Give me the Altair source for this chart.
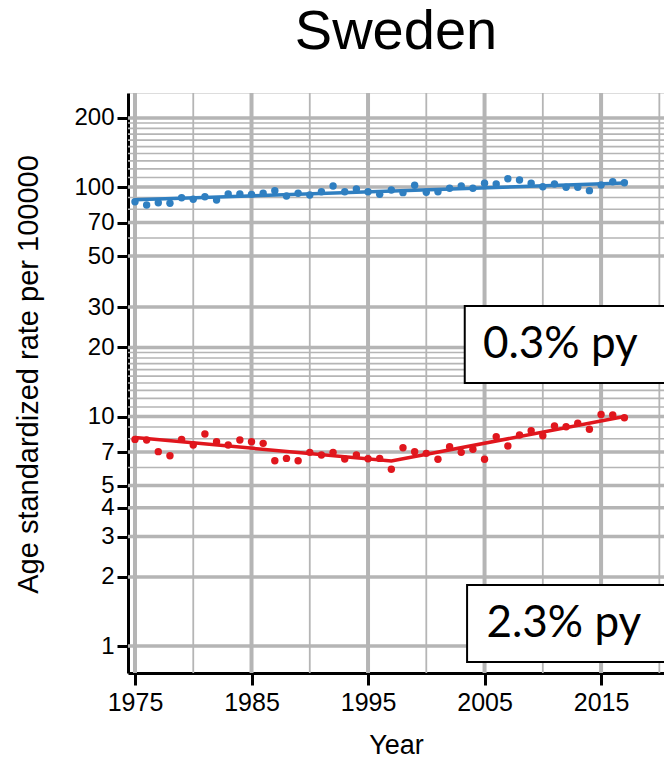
import altair as alt
import pandas as pd

# ---------------- data ----------------
years = list(range(1975, 2018))
blue_rate = [86.3, 83.5, 85.4, 84.9, 89.8, 88.4, 90.7, 87.8, 93.2, 93.2,
             92.9, 93.9, 96.4, 91.4, 93.9, 92.3, 95.4, 101.0, 95.4, 98.0,
             95.4, 92.9, 97.0, 94.5, 101.7, 94.8, 95.4, 98.7, 101.0, 98.7,
             103.8, 103.1, 108.7, 107.3, 103.8, 100.3, 103.1, 99.7, 99.7, 96.4,
             102.0, 105.5, 104.4]
red_rate = [7.95, 7.90, 7.03, 6.75, 7.95, 7.51, 8.39, 7.77, 7.51, 7.90,
            7.77, 7.64, 6.42, 6.57, 6.42, 6.98, 6.80, 6.98, 6.53, 6.80,
            6.55, 6.57, 5.89, 7.31, 7.03, 6.91, 6.51, 7.39, 6.98, 7.20,
            6.51, 8.17, 7.44, 8.31, 8.67, 8.25, 9.09, 9.03, 9.34, 8.80,
            10.2, 10.15, 9.88]

blue_fit_years = [1975, 2017]
blue_fit = [88.0, 104.0]
red_fit_years = [1975, 1997, 2017]
red_fit = [8.1, 6.4, 10.0]

x_ticks = [1975, 1985, 1995, 2005, 2015]
x_minor = [1980, 1990, 2000, 2010, 2020]
y_ticks = [1, 2, 3, 4, 5, 7, 10, 20, 30, 50, 70, 100, 200]
y_minor = [6, 8, 9, 11, 12, 13, 14, 15, 16, 17, 18, 19, 60, 80, 90,
           110, 120, 130, 140, 150, 160, 170, 180, 190]

box_labels = ["0.3% py", "2.3% py"]
box_x = [2003.3, 2003.5]
box_x2 = [2022.0, 2022.0]
box_y = [30.3, 1.845]
box_y2 = [14.0, 0.852]
box_text_x = [2011.5, 2011.8]
box_text_y = [20.5, 1.247]

# ---------------- tables ----------------
pts = pd.DataFrame({
    "year": years * 2,
    "rate": blue_rate + red_rate,
    "series": ["blue"] * len(years) + ["red"] * len(years),
})
fits = pd.DataFrame({
    "year": blue_fit_years + red_fit_years,
    "rate": blue_fit + red_fit,
    "series": ["blue"] * len(blue_fit_years) + ["red"] * len(red_fit_years),
})
xmaj = pd.DataFrame({"year": x_ticks})
xmin = pd.DataFrame({"year": x_minor})
ymaj = pd.DataFrame({"rate": y_ticks})
ymin = pd.DataFrame({"rate": y_minor})
boxes = pd.DataFrame({"label": box_labels, "year": box_x, "x2": box_x2,
                      "rate": box_y, "y2": box_y2, "tx": box_text_x, "ty": box_text_y})

FONT = "Liberation Sans"
xs = alt.Scale(domain=[1974.4, 2020.4], nice=False, zero=False)
ys = alt.Scale(type="log", domain=[0.763, 256.8], nice=False)
colors = alt.Scale(domain=["blue", "red"], range=["#2f7fc1", "#e0161d"])
GRID = "#b5b5b5"

x_axis = alt.Axis(values=x_ticks, format="d", grid=False, title="Year",
                  labelFont=FONT, labelFontSize=25, labelColor="black", labelPadding=5,
                  labelOverlap=False,
                  tickColor="black", tickWidth=3, tickSize=12,
                  domainColor="black", domainWidth=3,
                  titleFont=FONT, titleFontSize=27, titleFontWeight="normal",
                  titleColor="black", titlePadding=17)
y_axis = alt.Axis(values=y_ticks, format="~g", grid=False,
                  title="Age standardized rate per 100000",
                  labelFont=FONT, labelFontSize=24, labelColor="black", labelPadding=3,
                  labelOverlap=False,
                  tickColor="black", tickWidth=3, tickSize=11,
                  domainColor="black", domainWidth=3,
                  titleFont=FONT, titleFontSize=29, titleFontWeight="normal",
                  titleColor="black", titleX=-91, titleY=281,
                  titleBaseline="alphabetic", titleAngle=270, titleAlign="center")

X = lambda f: alt.X(f, scale=xs, axis=x_axis)
Y = lambda f: alt.Y(f, scale=ys, axis=y_axis)

g_xmin = alt.Chart(xmin).mark_rule(color=GRID, strokeWidth=1.8).encode(x=X("year:Q"))
g_ymin = alt.Chart(ymin).mark_rule(color=GRID, strokeWidth=1.6).encode(y=Y("rate:Q"))
g_xmaj = alt.Chart(xmaj).mark_rule(color=GRID, strokeWidth=4).encode(x=X("year:Q"))
g_ymaj = alt.Chart(ymaj).mark_rule(color=GRID, strokeWidth=3.5).encode(y=Y("rate:Q"))

lines = alt.Chart(fits).mark_line(strokeWidth=3.5).encode(
    x=X("year:Q"), y=Y("rate:Q"),
    color=alt.Color("series:N", scale=colors, legend=None),
    detail="series:N")

points = alt.Chart(pts).mark_circle(size=55, opacity=1).encode(
    x=X("year:Q"), y=Y("rate:Q"),
    color=alt.Color("series:N", scale=colors, legend=None))

rects = alt.Chart(boxes).mark_rect(fill="white", stroke="black", strokeWidth=2,
                                   clip=True).encode(
    x=X("year:Q"), x2="x2:Q", y=Y("rate:Q"), y2="y2:Q")

texts = alt.Chart(boxes).mark_text(font="Lato", fontSize=44, color="black",
                                   align="center", baseline="middle").encode(
    x=X("tx:Q"), y=Y("ty:Q"), text="label:N")

chart = alt.layer(g_xmin, g_ymin, g_xmaj, g_ymaj, lines, points, rects, texts).properties(
    width=536, height=580,
    padding={"left": 128, "top": 93, "right": 0, "bottom": 90},
    autosize=alt.AutoSizeParams(type="none"),
    title=alt.TitleParams("Sweden", font=FONT, fontSize=56, fontWeight="normal",
                          color="black", anchor="middle", offset=30),
).configure_view(stroke=None).configure(background="white")

chart.save("out.html", embed_options={"renderer": "svg", "actions": False})
